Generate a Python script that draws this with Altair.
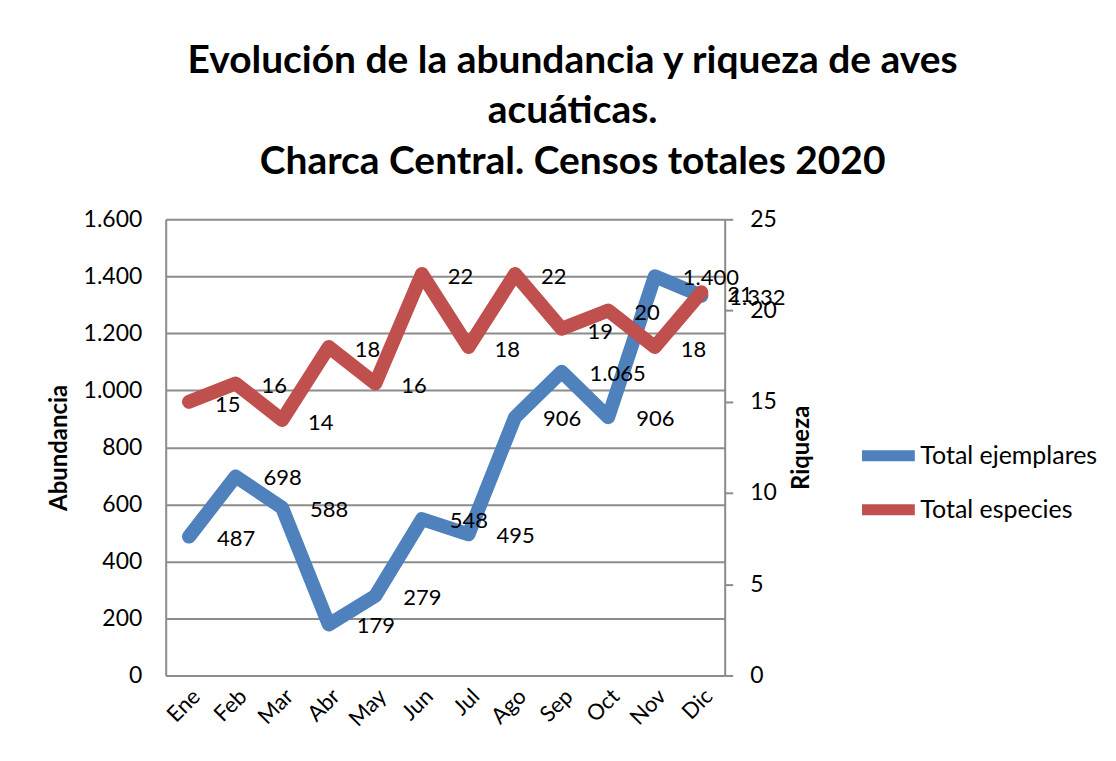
import altair as alt
import pandas as pd

meses = ["Ene", "Feb", "Mar", "Abr", "May", "Jun", "Jul", "Ago", "Sep", "Oct", "Nov", "Dic"]
ejemplares = [487, 698, 588, 179, 279, 548, 495, 906, 1065, 906, 1400, 1332]
especies = [15, 16, 14, 18, 16, 22, 18, 22, 19, 20, 18, 21]
series = ["Total ejemplares", "Total especies"]
colores = ["#4F81BD", "#C0504D"]

def fmt(v):
    return f"{v:,}".replace(",", ".")

rows = []
for m, v in zip(meses, ejemplares):
    rows.append({"mes": m, "valor": v, "serie": series[0], "etiqueta": fmt(v)})
for m, v in zip(meses, especies):
    rows.append({"mes": m, "valor": v, "serie": series[1], "etiqueta": fmt(v)})
df = pd.DataFrame(rows)

FONT = "Lato"
GRID = "#8c8c8c"

x_enc = alt.X("mes:N", sort=meses,
              scale=alt.Scale(type="point", padding=0.5),
              axis=alt.Axis(title=None, labelAngle=-45, labelFontSize=22, labelFont=FONT,
                            labelColor="black", ticks=False, domainColor=GRID, domainWidth=2,
                            labelPadding=10, grid=False))

color_enc = alt.Color("serie:N", scale=alt.Scale(domain=series, range=colores),
                      legend=alt.Legend(title=None, orient="none", legendX=692, legendY=205,
                                        symbolType="stroke", symbolStrokeWidth=11,
                                        symbolSize=2800, labelFontSize=25, labelFont=FONT,
                                        labelColor="black", rowPadding=-12, labelOffset=0,
                                        labelLimit=400))

base = alt.Chart(df)

left_scale = alt.Scale(domain=[0, 1600], nice=False)
right_scale = alt.Scale(domain=[0, 25], nice=False)

blue_line = base.transform_filter(alt.datum.serie == series[0]).mark_line(
    strokeWidth=14, strokeCap="round", strokeJoin="round").encode(
    x=x_enc,
    y=alt.Y("valor:Q", scale=left_scale,
            axis=alt.Axis(title="Abundancia", values=list(range(0, 1601, 200)),
                          labelExpr="replace(format(datum.value, ',d'), ',', '.')",
                          labelFontSize=23, labelFont=FONT, labelColor="black",
                          ticks=False, domainColor=GRID, domainWidth=2,
                          gridColor=GRID, gridWidth=2, labelPadding=24,
                          titleFontSize=24, titleFont=FONT, titleFontWeight="bold",
                          titleColor="black", titlePadding=12)),
    color=color_enc)
blue_text = base.transform_filter(alt.datum.serie == series[0]).mark_text(
    align="left", baseline="middle", dx=28, dy=2, fontSize=22, font=FONT, color="black").encode(
    x=alt.X("mes:N", sort=meses), y=alt.Y("valor:Q", scale=left_scale), text="etiqueta:N")

red_line = base.transform_filter(alt.datum.serie == series[1]).mark_line(
    strokeWidth=14, strokeCap="round", strokeJoin="round").encode(
    x=x_enc,
    y=alt.Y("valor:Q", scale=right_scale,
            axis=alt.Axis(title="Riqueza", orient="right", values=list(range(0, 26, 5)),
                          labelFontSize=23, labelFont=FONT, labelColor="black",
                          ticks=True, tickSize=8, tickColor=GRID, tickWidth=2,
                          domainColor=GRID, domainWidth=2, grid=False, labelPadding=17,
                          titleFontSize=24, titleFont=FONT, titleFontWeight="bold",
                          titleColor="black", titleAngle=270, titlePadding=37)),
    color=color_enc)
red_text = base.transform_filter(alt.datum.serie == series[1]).mark_text(
    align="left", baseline="middle", dx=26, dy=3, fontSize=22, font=FONT, color="black").encode(
    x=alt.X("mes:N", sort=meses), y=alt.Y("valor:Q", scale=right_scale), text="etiqueta:N")

blue = alt.layer(blue_line, blue_text)
red = alt.layer(red_line, red_text)

chart = alt.layer(blue, red).resolve_scale(y="independent").properties(
    width=560, height=457,
    padding={"left": 39, "top": 33, "right": 10, "bottom": 10},
    title=alt.Title(["Evolución de la abundancia y riqueza de aves", "acuáticas.",
                     "Charca Central. Censos totales 2020"],
                    fontSize=39, font=FONT, fontWeight="bold", lineHeight=51,
                    frame="bounds", anchor="middle", color="black", offset=26),
).configure_view(stroke=None).configure(background="white")

chart.save("out.html", embed_options={"renderer": "svg", "actions": False})
